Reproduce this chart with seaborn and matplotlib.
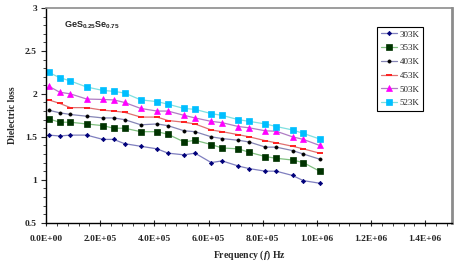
import matplotlib
matplotlib.use("Agg")
import matplotlib.pyplot as plt
import matplotlib.ticker as mticker
import numpy as np
import pandas as pd
import seaborn as sns

# frequency (Hz)
freq = [1.0e4, 5.0e4, 9.0e4, 1.5e5, 2.1e5, 2.5e5, 2.9e5, 3.5e5, 4.1e5, 4.5e5, 5.1e5,
        5.5e5, 6.1e5, 6.5e5, 7.1e5, 7.5e5, 8.1e5, 8.5e5, 9.1e5, 9.5e5, 1.01e6]

loss_303 = [1.52, 1.51, 1.52, 1.52, 1.47, 1.47, 1.42, 1.39, 1.36, 1.31, 1.29,
            1.31, 1.20, 1.22, 1.16, 1.13, 1.10, 1.10, 1.05, 0.99, 0.96]
loss_353 = [1.71, 1.67, 1.67, 1.65, 1.63, 1.60, 1.60, 1.56, 1.56, 1.53, 1.44,
            1.46, 1.41, 1.37, 1.36, 1.32, 1.27, 1.25, 1.23, 1.20, 1.10]
loss_403 = [1.81, 1.78, 1.76, 1.74, 1.72, 1.72, 1.70, 1.64, 1.65, 1.63, 1.57,
            1.56, 1.50, 1.48, 1.46, 1.44, 1.38, 1.38, 1.34, 1.30, 1.24]
loss_453 = [1.93, 1.89, 1.84, 1.84, 1.81, 1.80, 1.785, 1.73, 1.73, 1.69, 1.67,
            1.65, 1.58, 1.56, 1.525, 1.50, 1.455, 1.43, 1.39, 1.36, 1.31]
loss_503 = [2.09, 2.02, 2.00, 1.94, 1.935, 1.93, 1.90, 1.83, 1.80, 1.80, 1.75,
            1.72, 1.68, 1.665, 1.62, 1.605, 1.57, 1.565, 1.50, 1.47, 1.40]
loss_523 = [2.25, 2.19, 2.15, 2.08, 2.04, 2.03, 2.01, 1.93, 1.91, 1.88, 1.83,
            1.82, 1.77, 1.75, 1.70, 1.68, 1.65, 1.62, 1.58, 1.54, 1.475]

labels = ["303K", "353K", "403K", "453K", "503K", "523K"]
series = [loss_303, loss_353, loss_403, loss_453, loss_503, loss_523]

# line colour, marker, marker colour, marker size
styles = [
    ("#7f7fbf", "D", "#00007a", 2.2),
    ("#80c080", "s", "#003300", 4.3),
    ("#8585b5", "o", "#000000", 2.3),
    ("#e07070", "_", "#ff2020", 4.0),
    ("#b07cc4", "^", "#ff00ff", 4.6),
    ("#7ee0e0", "s", "#00bfff", 4.8),
]

sns.set_style("ticks")
plt.rcParams["font.family"] = ["Liberation Serif", "DejaVu Serif"]
plt.rcParams["mathtext.fontset"] = "custom"
plt.rcParams["mathtext.rm"] = "Liberation Sans:bold"
plt.rcParams["mathtext.it"] = "Liberation Serif:italic:bold"

fig = plt.figure(figsize=(4.63, 2.64), dpi=100)
ax = fig.add_axes([0.0994, 0.1564, 0.8775, 0.8133])

for lab, vals, (lc, mk, mc, ms) in zip(labels, series, styles):
    df = pd.DataFrame({"freq": freq, "loss": vals})
    sns.lineplot(data=df, x="freq", y="loss", ax=ax, color=lc, lw=0.9,
                 marker=mk, markersize=ms, markerfacecolor=mc,
                 markeredgecolor=mc, markeredgewidth=1.4 if mk == "_" else 0.5,
                 label=lab)

ax.set_xlim(0, 1.5e6)
ax.set_ylim(0.5, 3)
ax.xaxis.set_major_locator(mticker.MultipleLocator(2e5))
ax.xaxis.set_minor_locator(mticker.MultipleLocator(4e4))
ax.xaxis.set_major_formatter(mticker.FuncFormatter(lambda v, p: "%.1E" % v))
ax.yaxis.set_major_locator(mticker.MultipleLocator(0.5))
ax.yaxis.set_minor_locator(mticker.MultipleLocator(0.1))
ax.yaxis.set_major_formatter(mticker.FuncFormatter(lambda v, p: "%g" % v))

ax.tick_params(axis="x", which="major", direction="inout", length=5, width=0.8,
               labelsize=6.8, pad=6)
ax.tick_params(axis="x", which="minor", direction="out", length=2.5, width=0.6)
ax.tick_params(axis="y", which="major", direction="out", length=3.5, width=0.8,
               labelsize=6.8, pad=3)
ax.tick_params(axis="y", which="minor", direction="out", length=2.5, width=0.6)
for t in ax.get_xticklabels() + ax.get_yticklabels():
    t.set_fontweight("bold")

for s in ["left", "bottom"]:
    ax.spines[s].set_color("black")
    ax.spines[s].set_linewidth(1.0)
ax.spines["top"].set_color("#8c8c8c")
ax.spines["top"].set_linewidth(1.2)
ax.spines["right"].set_color("#8c8c8c")
ax.spines["right"].set_linewidth(2.0)

ax.set_xlabel("Frequency ($\\mathit{f}$) Hz", fontsize=7, fontweight="bold", labelpad=4)
ax.set_ylabel("Dielectric loss", fontsize=7, fontweight="bold", labelpad=6)

ax.text(0.044, 0.92, "GeS$_{0.25}$Se$_{0.75}$", transform=ax.transAxes,
        fontsize=6.5, fontweight="bold", family=["Liberation Sans", "DejaVu Sans"],
        va="center", ha="left")

leg = ax.legend(loc="upper right", bbox_to_anchor=(0.928, 0.913), fontsize=6.5,
                frameon=True, fancybox=False, edgecolor="black", framealpha=1,
                handlelength=1.8, handletextpad=0.3, labelspacing=0.6,
                borderpad=0.4, borderaxespad=0)
leg.get_frame().set_linewidth(0.8)

fig.savefig("out.png", dpi=100)
